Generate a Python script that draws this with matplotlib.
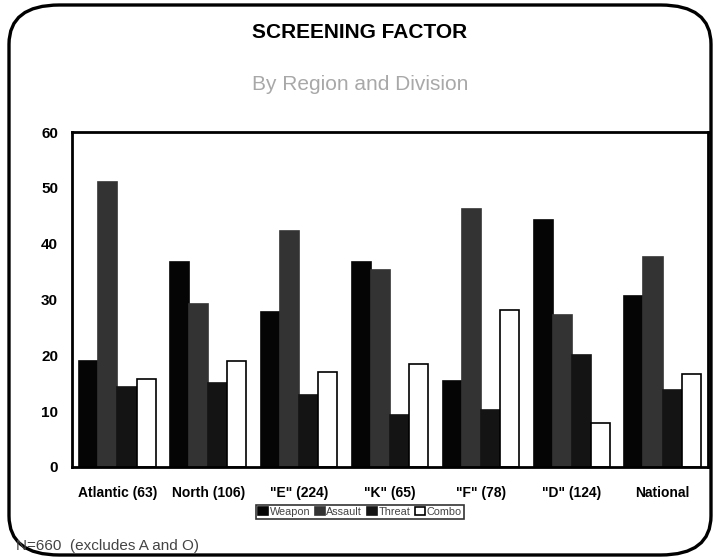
import numpy as np
import matplotlib
matplotlib.use("Agg")
import matplotlib.pyplot as plt
from matplotlib.patches import FancyBboxPatch

# data
regions = ["Atlantic (63)", "North (106)", '"E" (224)', '"K" (65)', '"F" (78)', '"D" (124)', "National"]
weapon = [19.0, 36.8, 27.7, 36.8, 15.4, 44.3, 30.6]
assault = [51.0, 29.2, 42.3, 35.3, 46.2, 27.2, 37.7]
threat = [14.3, 15.1, 12.9, 9.3, 10.2, 20.0, 13.8]
combo = [15.8, 18.9, 17.0, 18.4, 28.1, 7.8, 16.7]
series_names = ["Weapon", "Assault", "Threat", "Combo"]
y_ticks = [0, 10, 20, 30, 40, 50, 60]

plt.rcParams['font.family'] = ['Liberation Sans', 'DejaVu Sans']

fig = plt.figure(figsize=(7.2, 5.6), dpi=100)
ax = fig.add_axes([72 / 720, 1 - 467 / 560, 636 / 720, 335 / 560])

# rounded frame round the whole slide
frame = FancyBboxPatch((9 / 720, 5 / 560), 702 / 720, 550 / 560,
                       boxstyle="round,pad=0,rounding_size=0.07",
                       transform=fig.transFigure, fill=False,
                       edgecolor="black", linewidth=2.4, zorder=0)
fig.patches.append(frame)

x = np.arange(len(regions))
w = 0.21
styles = [
    dict(color="#050505", edgecolor="#050505"),
    dict(color="#333333", edgecolor="#333333"),
    dict(color="#141414", edgecolor="#141414"),
    dict(color="white", edgecolor="black"),
]
for i, (vals, name, st) in enumerate(zip([weapon, assault, threat, combo], series_names, styles)):
    ax.bar(x + (i - 1.5) * w, vals, w, label=name, facecolor=st["color"],
           edgecolor=st["edgecolor"], linewidth=1.2)

ax.set_xlim(-0.5, len(regions) - 0.5)
ax.set_ylim(0, 60)
ax.set_yticks(y_ticks)
ax.set_yticklabels([str(t) for t in y_ticks], fontsize=11, fontweight="bold")
ax.set_xticks(x)
ax.set_xticklabels(regions, fontsize=10, fontweight="bold")
ax.tick_params(axis="x", length=0, pad=14)
ax.tick_params(axis="y", length=0, pad=10)
for s in ax.spines.values():
    s.set_linewidth(2)

fig.text(0.5, 1 - 32 / 560, "SCREENING FACTOR", ha="center", va="center",
         fontsize=15, fontweight="bold")
fig.text(0.5, 1 - 85 / 560, "By Region and Division", ha="center", va="center",
         fontsize=15, color="#a8a8a8")

leg = fig.legend(loc="center", bbox_to_anchor=(0.5, 1 - 512 / 560), ncol=4,
                 fontsize=7.8, frameon=True, fancybox=False, edgecolor="black",
                 handlelength=0.9, handleheight=0.8, handletextpad=0.15,
                 columnspacing=0.45, borderpad=0.2, borderaxespad=0)
leg.get_frame().set_linewidth(1.2)
for t in leg.get_texts():
    t.set_color("#444444")

fig.text(16 / 720, 1 - 546 / 560, "N=660  (excludes A and O)", ha="left", va="center",
         fontsize=11, color="#444444")

fig.savefig("out.png", dpi=100)
